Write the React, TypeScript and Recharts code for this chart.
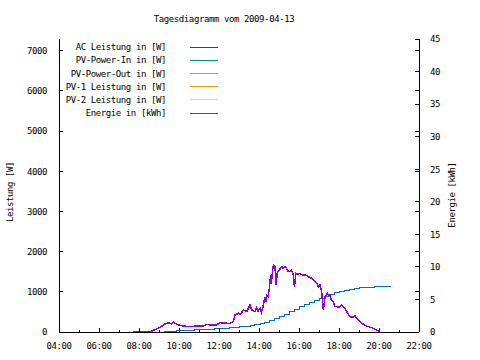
import { LineChart, Line, XAxis, YAxis } from 'recharts';

const FONT = '"DejaVu Sans Mono", monospace';
const PLOT_LEFT = 59;
const PLOT_RIGHT = 419;
const PLOT_TOP = 39;

// AC Leistung (hour of day, watts)
const acHours = [
  7.72, 8.3, 8.55, 8.8, 9.05, 9.3, 9.47, 9.63, 9.72, 9.8, 9.97, 10.22, 10.55, 10.88, 11.22,
  11.38, 11.6, 11.88, 12.05, 12.3, 12.55, 12.72, 12.8, 12.97, 13.05, 13.22, 13.38, 13.55, 13.62,
  13.72, 13.8, 13.88, 13.95, 14.05, 14.12, 14.22, 14.3, 14.35, 14.38, 14.45, 14.52, 14.58, 14.62,
  14.68, 14.72, 14.8, 14.85, 14.92, 15.02, 15.13, 15.22, 15.3, 15.38, 15.45, 15.55, 15.62, 15.72,
  15.77, 15.85, 15.95, 16.05, 16.15, 16.3, 16.4, 16.47, 16.55, 16.63, 16.7, 16.8, 16.9, 16.97,
  17.05, 17.13, 17.22, 17.3, 17.42, 17.47, 17.55, 17.63, 17.72, 17.8, 17.88, 17.97, 18.13, 18.3,
  18.45, 18.55, 18.72, 18.8, 18.9, 19.05, 19.2, 19.38, 19.55, 19.72, 19.85, 19.97, 20.05,
];
const acWatts = [
  0, 0, 0, 60, 117, 199, 232, 199, 250, 215, 174, 149, 133, 149, 149,
  190, 170, 174, 232, 220, 215, 257, 423, 464, 430, 547, 506, 672, 560,
  520, 506, 600, 520, 589, 480, 672, 879, 760, 920, 880, 1087, 1418, 1200,
  1550, 1667, 1640, 1169, 1500, 1543, 1625, 1584, 1620, 1580, 1520, 1501, 1540, 1418,
  1128, 1460, 1440, 1460, 1420, 1418, 1400, 1380, 1350, 1336, 1300, 1252, 1200, 1128,
  1169, 1003, 547, 879, 961, 920, 920, 780, 754, 630, 630, 610, 672, 589,
  450, 380, 365, 400, 330, 257, 200, 149, 120, 91, 60, 25, 0,
];

// Energie (hour of day, kWh)
const energyHours = [
  8.88, 9.25, 9.5, 9.88, 10.25, 10.5, 10.75, 11.0, 11.47, 11.75, 12.0, 12.25, 12.5,
  12.8, 13.0, 13.25, 13.55, 13.75, 14.05, 14.25, 14.5, 14.75, 15.0, 15.25, 15.5, 15.75, 16.0,
  16.25, 16.5, 16.75, 17.0, 17.25, 17.5, 17.75, 18.0, 18.25, 18.5, 18.75, 19.0, 19.25, 19.5,
  19.75, 20.0, 20.25, 20.6,
];
const energyKwh = [
  0, 0.05, 0.1, 0.2, 0.25, 0.3, 0.35, 0.4, 0.41, 0.5, 0.55, 0.6, 0.65,
  0.72, 0.8, 0.9, 0.97, 1.15, 1.33, 1.5, 1.75, 2.1, 2.4, 2.75, 3.1, 3.5, 3.85,
  4.2, 4.55, 4.9, 5.2, 5.45, 5.75, 6.0, 6.25, 6.4, 6.55, 6.68, 6.78, 6.85, 6.9,
  6.92, 6.93, 6.95, 6.95,
];

const hourTicks = [4, 5, 6, 7, 8, 9, 10, 11, 12, 13, 14, 15, 16, 17, 18, 19, 20, 21, 22];
const powerTicks = [0, 1000, 2000, 3000, 4000, 5000, 6000, 7000];
const energyTicks = [0, 5, 10, 15, 20, 25, 30, 35, 40, 45];

const legendItems = [
  { name: 'AC Leistung in [W]', color: '#9400d3' },
  { name: 'PV-Power-In in [W]', color: '#009e73' },
  { name: 'PV-Power-Out in [W]', color: '#56b4e9' },
  { name: 'PV-1 Leistung in [W]', color: '#e69f00' },
  { name: 'PV-2 Leistung in [W]', color: '#f0e442' },
  { name: 'Energie in [kWh]', color: '#0072b2' },
];

const acData = acHours.map((h, i) => ({ hour: h, ac: acWatts[i] }));
const energyData = energyHours.map((h, i) => ({ hour: h, energy: energyKwh[i] }));

const txt = { fontFamily: FONT, fontSize: 9, letterSpacing: -0.4, fill: '#000' };

const fmtHour = (h: number) => `${String(h).padStart(2, '0')}:00`;

const BottomTick = ({ x, y, payload }: any) => {
  const major = payload.value % 2 === 0;
  const len = major ? 4 : 2;
  return (
    <g>
      <line x1={x} y1={y} x2={x} y2={y - len} stroke="#000" />
      {major && (
        <text x={x} y={y + 16.5} textAnchor="middle" style={txt}>
          {fmtHour(payload.value)}
        </text>
      )}
    </g>
  );
};

const TopTick = ({ x, y, payload }: any) => {
  const len = payload.value % 2 === 0 ? 4 : 2;
  return <line x1={x} y1={y} x2={x} y2={y + len} stroke="#000" />;
};

const LeftTick = ({ x, y, payload }: any) => (
  <g>
    <line x1={x} y1={y} x2={x + 4} y2={y} stroke="#000" />
    <line x1={PLOT_RIGHT} y1={y} x2={PLOT_RIGHT - 4} y2={y} stroke="#000" />
    <text x={x - 12} y={y + 3.3} textAnchor="end" style={txt}>
      {payload.value}
    </text>
  </g>
);

const RightTick = ({ x, y, payload }: any) => (
  <g>
    <line x1={x} y1={y} x2={x - 4} y2={y} stroke="#000" />
    <text x={x + 11} y={y + 3.3} textAnchor="start" style={txt}>
      {payload.value}
    </text>
  </g>
);

const App = () => {
  return (
    <div style={{ position: 'absolute', left: 0, top: 0, width: 480, height: 360, background: '#fff' }}>
      <LineChart
        width={480}
        height={360}
        margin={{ top: PLOT_TOP, right: 0, bottom: 0, left: 0 }}
        style={{ shapeRendering: 'crispEdges' }}
      >
        <XAxis
          xAxisId="x"
          dataKey="hour"
          type="number"
          domain={[4, 22]}
          ticks={hourTicks}
          interval={0}
          height={28}
          tickSize={0}
          tickMargin={0}
          tickLine={false}
          axisLine={{ stroke: '#000' }}
          tick={(p: any) => <BottomTick {...p} />}
          allowDataOverflow
        />
        <XAxis
          xAxisId="top"
          orientation="top"
          dataKey="hour"
          type="number"
          domain={[4, 22]}
          ticks={hourTicks}
          interval={0}
          height={0}
          tickSize={0}
          tickMargin={0}
          tickLine={false}
          axisLine={{ stroke: '#000' }}
          tick={(p: any) => <TopTick {...p} />}
          allowDataOverflow
        />
        <YAxis
          yAxisId="power"
          type="number"
          domain={[0, 7290]}
          ticks={powerTicks}
          interval={0}
          width={PLOT_LEFT}
          tickSize={0}
          tickMargin={0}
          tickLine={false}
          axisLine={{ stroke: '#000' }}
          tick={(p: any) => <LeftTick {...p} />}
          allowDataOverflow
        />
        <YAxis
          yAxisId="energy"
          orientation="right"
          type="number"
          domain={[0, 45]}
          ticks={energyTicks}
          interval={0}
          width={480 - PLOT_RIGHT}
          tickSize={0}
          tickMargin={0}
          tickLine={false}
          axisLine={{ stroke: '#000' }}
          tick={(p: any) => <RightTick {...p} />}
          allowDataOverflow
        />
        <Line
          xAxisId="x"
          yAxisId="energy"
          data={energyData}
          dataKey="energy"
          type="stepAfter"
          stroke="#0072b2"
          strokeWidth={1}
          dot={false}
          activeDot={false}
          isAnimationActive={false}
        />
        <Line
          xAxisId="x"
          yAxisId="power"
          data={acData}
          dataKey="ac"
          type="linear"
          stroke="#9400d3"
          strokeWidth={1.5}
          dot={false}
          activeDot={false}
          isAnimationActive={false}
        />
      </LineChart>

      <svg
        width={480}
        height={360}
        style={{ position: 'absolute', left: 0, top: 0, pointerEvents: 'none' }}
      >
        <text x={224} y={21.5} textAnchor="middle" style={txt}>
          Tagesdiagramm vom 2009-04-13
        </text>
        <text x={10} y={192} textAnchor="middle" transform="rotate(-90 10 192)" dominantBaseline="central" style={txt}>
          Leistung [W]
        </text>
        <text x={452} y={195} textAnchor="middle" transform="rotate(-90 452 195)" dominantBaseline="central" style={txt}>
          Energie [kWh]
        </text>
        {legendItems.map((item, i) => {
          const cy = 47 + i * 13.1;
          return (
            <g key={item.name}>
              <text x={166} y={cy + 3.3} textAnchor="end" style={txt}>
                {item.name}
              </text>
              <line
                x1={190}
                y1={Math.round(cy) + 0.5}
                x2={218}
                y2={Math.round(cy) + 0.5}
                stroke={item.color}
                strokeWidth={1}
              />
            </g>
          );
        })}
      </svg>
    </div>
  );
};

export default App;
